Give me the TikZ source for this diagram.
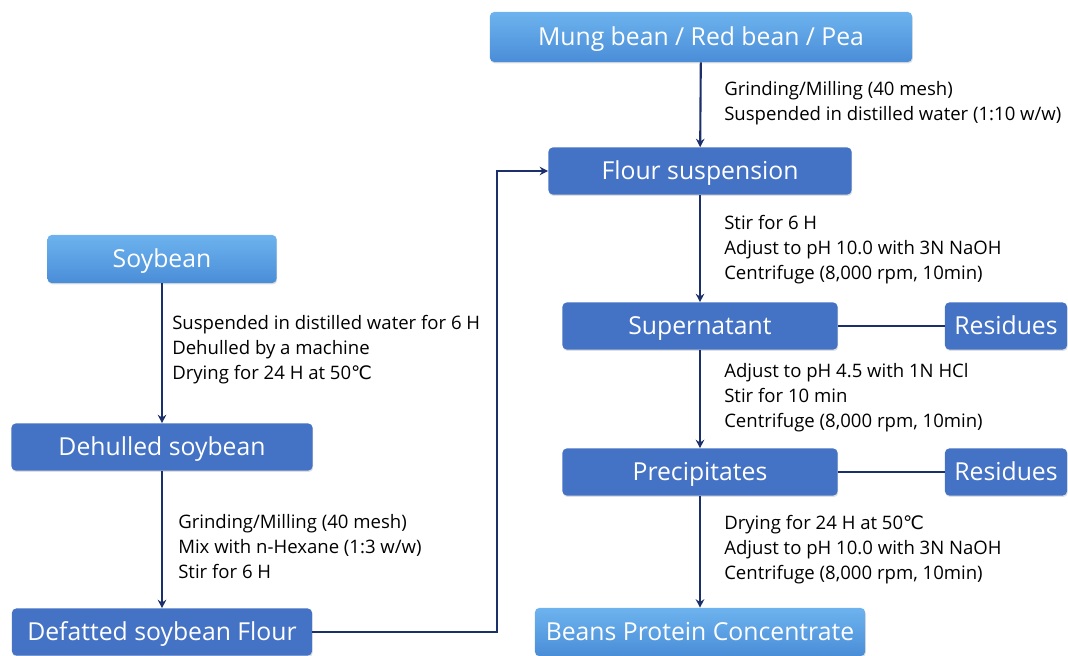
\documentclass[tikz,border=0pt]{standalone}
\usepackage{fontspec}
\setmainfont{Open Sans}
\newfontfamily\symfont{DejaVu Sans}
\usetikzlibrary{arrows.meta,shadows}
\definecolor{boxblue}{HTML}{4472C4}
\definecolor{lighttop}{HTML}{6DB3EE}
\definecolor{lightbot}{HTML}{4A8DD8}
\definecolor{linknavy}{HTML}{1B2F6B}
\newcommand{\degc}{{\symfont ℃}}
\begin{document}
\begin{tikzpicture}[x=0.025cm, y=-0.025cm,
        source/.style={rectangle, rounded corners=3pt, top color=lighttop, bottom color=lightbot, draw=none, text=white, font=\fontsize{17.6}{20}\selectfont, text height=15pt, text depth=2.4pt, minimum height=1.2cm, drop shadow={opacity=0.25, shadow xshift=0.5pt, shadow yshift=-1pt}},
        process/.style={rectangle, rounded corners=3pt, fill=boxblue, draw=none, text=white, font=\fontsize{17.6}{20}\selectfont, text height=15pt, text depth=2.4pt, minimum height=1.175cm, drop shadow={opacity=0.25, shadow xshift=0.5pt, shadow yshift=-1pt}},
        note_text/.style={anchor=west, align=left, inner sep=0pt, font=\fontsize{13.2}{17.8}\selectfont},
        link/.style={draw=linknavy, line width=1.5pt},
        >={Stealth[length=6pt, width=6pt]}
    ]
        \useasboundingbox (0,0) rectangle (1068,656);

        % Bean line (right column)
        \node[source, minimum width=10.55cm, minimum height=1.25cm] (mung) at (701,37) {Mung bean / Red bean / Pea};
        \node[process, minimum width=7.575cm] (flour) at (700,171) {Flour suspension};
        \node[process, minimum width=6.875cm] (super) at (700,326) {Supernatant};
        \node[process, minimum width=3.05cm] (res1) at (1006,326) {Residues};
        \node[process, minimum width=6.875cm] (precip) at (700,472) {Precipitates};
        \node[process, minimum width=3.05cm] (res2) at (1006,472) {Residues};
        \node[source, minimum width=8.25cm] (bpc) at (700,632) {Beans Protein Concentrate};

        % Soybean line (left column)
        \node[source, minimum width=5.725cm] (soy) at (162,259) {Soybean};
        \node[process, minimum width=7.525cm] (dehull) at (162,447) {Dehulled soybean};
        \node[process, minimum width=7.5cm] (defat) at (162,632) {Defatted soybean Flour};
        \coordinate (turn) at (497,632);

        % Connectors
        \draw[link, ->] (mung) -- (flour);
        \draw[link, ->] (flour) -- (super);
        \draw[link, ->] (super) -- (precip);
        \draw[link, ->] (precip) -- (bpc);
        \draw[link] (super) -- (res1);
        \draw[link] (precip) -- (res2);
        \draw[link, ->] (soy) -- (dehull);
        \draw[link, ->] (dehull) -- (defat);
        \draw[link, ->] (defat) -- (turn) |- (flour);

        % Step notes
        \node[note_text] (n_mung) at (724,103.5) {Grinding/Milling (40 mesh)\\Suspended in distilled water (1:10 w/w)};
        \node[note_text] (n_flour) at (724,250) {Stir for 6 H\\Adjust to pH 10.0 with 3N NaOH\\Centrifuge (8,000 rpm, 10min)};
        \node[note_text] (n_super) at (724,398) {Adjust to pH 4.5 with 1N HCl\\Stir for 10 min\\Centrifuge (8,000 rpm, 10min)};
        \node[note_text] (n_precip) at (724,550) {Drying for 24 H at 50\degc\\Adjust to pH 10.0 with 3N NaOH\\Centrifuge (8,000 rpm, 10min)};
        \node[note_text] (n_soy) at (172,350) {Suspended in distilled water for 6 H\\Dehulled by a machine\\Drying for 24 H at 50\degc};
        \node[note_text] (n_dehull) at (178,547) {Grinding/Milling (40 mesh)\\Mix with n-Hexane (1:3 w/w)\\Stir for 6 H};
    \end{tikzpicture}
\end{document}
